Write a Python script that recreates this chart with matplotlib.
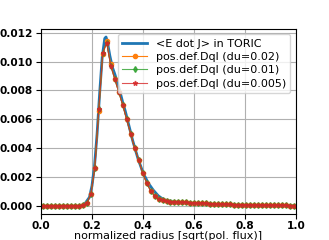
import matplotlib
matplotlib.use('Agg')
import matplotlib.pyplot as plt
from matplotlib.ticker import MultipleLocator, FormatStrFormatter

# TORIC <E dot J> profile (fine radial grid)
rho_toric = [0.0, 0.05, 0.10, 0.15, 0.17, 0.19, 0.20, 0.21, 0.22, 0.23, 0.24, 0.25,
             0.255, 0.26, 0.27, 0.28, 0.29, 0.30, 0.31, 0.32, 0.33, 0.34, 0.35, 0.36,
             0.37, 0.38, 0.39, 0.40, 0.42, 0.44, 0.46, 0.48, 0.50, 0.55, 0.60, 0.70,
             0.80, 0.90, 1.0]
edotj_toric = [0.0, 0.0, 0.0, 0.00001, 0.0001, 0.0006, 0.0014, 0.0028, 0.0050, 0.0078,
               0.0103, 0.0116, 0.0117, 0.0114, 0.0104, 0.0096, 0.0091, 0.0085, 0.0079,
               0.0072, 0.0066, 0.0059, 0.0052, 0.0045, 0.0039, 0.0033, 0.0028, 0.0023,
               0.0016, 0.0011, 0.0007, 0.00045, 0.00035, 0.00025, 0.0002, 0.0001,
               0.00006, 0.00004, 0.00003]

# pos.def.Dql profiles on the 64-point radial grid
rho = [0.0078, 0.0234, 0.0391, 0.0547, 0.0703, 0.0859, 0.1016, 0.1172, 0.1328, 0.1484,
       0.1641, 0.1797, 0.1953, 0.2109, 0.2266, 0.2422, 0.2578, 0.2734, 0.2891, 0.3047,
       0.3203, 0.3359, 0.3516, 0.3672, 0.3828, 0.3984, 0.4141, 0.4297, 0.4453, 0.4609,
       0.4766, 0.4922, 0.5078, 0.5234, 0.5391, 0.5547, 0.5703, 0.5859, 0.6016, 0.6172,
       0.6328, 0.6484, 0.6641, 0.6797, 0.6953, 0.7109, 0.7266, 0.7422, 0.7578, 0.7734,
       0.7891, 0.8047, 0.8203, 0.8359, 0.8516, 0.8672, 0.8828, 0.8984, 0.9141, 0.9297,
       0.9453, 0.9609, 0.9766, 0.9922]

tail = [0.00030, 0.00028, 0.00026, 0.00025, 0.00024, 0.00022, 0.00021, 0.00020,
        0.00019, 0.00017, 0.00016, 0.00015, 0.00014, 0.00013, 0.00012, 0.00011,
        0.00010, 0.00009, 0.00009, 0.00008, 0.00007, 0.00007, 0.00006, 0.00006,
        0.00005, 0.00005, 0.00005, 0.00004, 0.00004, 0.00004, 0.00003, 0.00003]

dql_002 = [0, 0, 0, 0, 0, 0, 0, 0, 0, 0.00001, 0.00004, 0.0002, 0.0008, 0.0026, 0.0066,
           0.0105, 0.0114, 0.0098, 0.0088, 0.0079, 0.0070, 0.0060, 0.0050, 0.0040,
           0.0032, 0.0023, 0.0016, 0.00106, 0.0007, 0.00049, 0.00038, 0.00033] + tail
dql_001 = [0, 0, 0, 0, 0, 0, 0, 0, 0, 0.00001, 0.00004, 0.0002, 0.0008, 0.0026, 0.0067,
           0.0106, 0.0113, 0.0097, 0.0088, 0.0079, 0.0070, 0.0060, 0.0050, 0.0040,
           0.0032, 0.0023, 0.0016, 0.00105, 0.0007, 0.00048, 0.00038, 0.00033] + tail
dql_0005 = [0, 0, 0, 0, 0, 0, 0, 0, 0, 0.00001, 0.00004, 0.0002, 0.0008, 0.0026, 0.0067,
            0.0106, 0.0113, 0.0097, 0.0088, 0.0079, 0.0070, 0.0060, 0.0050, 0.0040,
            0.0032, 0.0023, 0.0016, 0.00105, 0.0007, 0.00048, 0.00038, 0.00033] + tail

fs = 8

fig = plt.figure(figsize=(3.29, 2.40), dpi=100)
ax = fig.add_axes([0.1246, 0.1067, 0.7751, 0.7743])

ax.plot(rho_toric, edotj_toric, color='#1f77b4', lw=2, label='<E dot J> in TORIC')
ax.plot(rho, dql_002, 'o-', color='#ff7f0e', lw=0.8, ms=3, label='pos.def.Dql (du=0.02)')
ax.plot(rho, dql_001, 'd-', color='#2ca02c', lw=0.8, ms=3, alpha=0.8, label='pos.def.Dql (du=0.01)')
ax.plot(rho, dql_0005, '*-', color='#d62728', lw=0.8, ms=3.5, alpha=0.8, label='pos.def.Dql (du=0.005)')

ax.set_xlim(0, 1)
ax.yaxis.set_major_locator(MultipleLocator(0.002))
ax.yaxis.set_major_formatter(FormatStrFormatter('%.3f'))
ax.grid(True)
ax.set_xlabel('normalized radius [sqrt(pol. flux)]', fontsize=fs, labelpad=-0.5)
for lab in ax.get_xticklabels() + ax.get_yticklabels():
    lab.set_fontweight('bold')
    lab.set_fontsize(7.6)
ax.tick_params(axis='y', pad=2.5)
ax.tick_params(axis='x', pad=1.5)
ax.legend(fontsize=fs, loc='upper right', handlelength=2.2, borderpad=0.4, labelspacing=0.3)

fig.savefig('out.png', dpi=100)
